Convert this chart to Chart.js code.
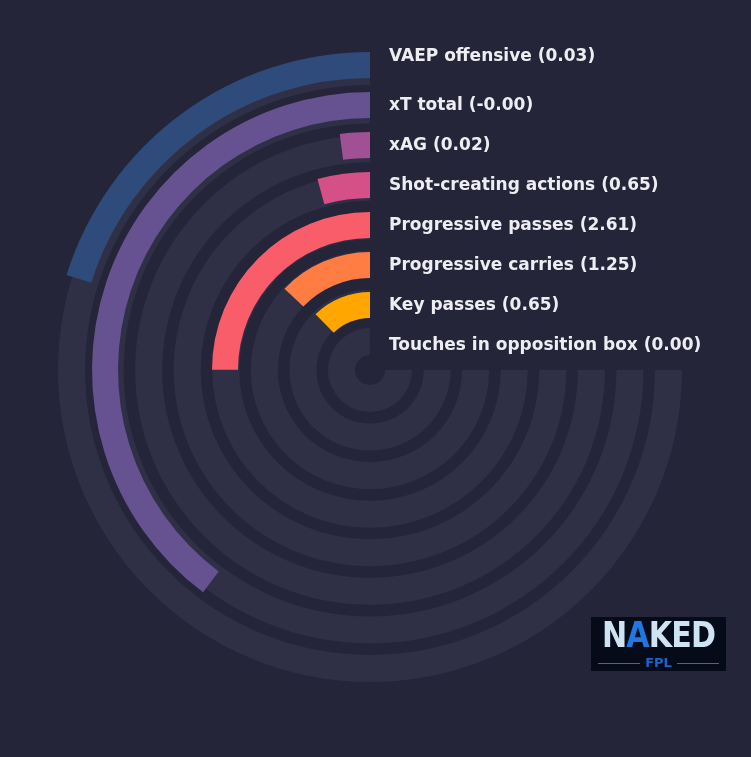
<!DOCTYPE html>
<html lang="en">
<head>
    <meta charset="UTF-8">
    <title>Radial bars - player profile</title>
    <script src="https://cdn.jsdelivr.net/npm/chart.js"></script>
    <style>
        body { margin: 0; background: #242539; }
        .wrap { position: relative; width: 751px; height: 757px; overflow: hidden; }
        canvas { position: absolute; left: 0; top: 0; }
        .logo {
            position: absolute; left: 591px; top: 617px; width: 135px; height: 54px;
            background: #060b1a; font-family: "DejaVu Sans", sans-serif; font-weight: bold;
            text-align: center;
        }
        .logo .big { position: absolute; left: 0; right: 0; top: 0px; font-size: 35px; line-height: 36px;
            color: #cfe4f2; letter-spacing: -1px; transform: scaleX(0.86); }
        .logo .big span { color: #1f78e0; }
        .logo .small { position: absolute; left: 0; right: 0; top: 38px; font-size: 13px; line-height: 15px;
            color: #1f63c8; }
        .logo .line { position: absolute; top: 46px; height: 1px; background: #1f6fd0; width: 42px; }
    </style>
</head>
<body>
<div class="wrap">
    <canvas id="tracks" width="751" height="757"></canvas>
    <canvas id="bars" width="751" height="757"></canvas>
    <div class="logo">
        <div class="big">N<span>A</span>KED</div>
        <div class="line" style="left:7px"></div>
        <div class="small">FPL</div>
        <div class="line" style="left:86px"></div>
    </div>
</div>

<script>
    // metrics, outer ring first
    const metrics = ["VAEP offensive", "xT total", "xAG", "Shot-creating actions",
        "Progressive passes", "Progressive carries", "Key passes", "Touches in opposition box"];
    // value shown in the label
    const shownValues = ["0.03", "-0.00", "0.02", "0.65", "2.61", "1.25", "0.65", "0.00"];
    // percentile (length of the bar, 100 = full 270 degree track)
    const percentiles = [26.9, 53.0, 2.7, 5.7, 33.3, 17.2, 16.4, 0.3];

    const colours = ["#2f4b7c", "#665191", "#a05195", "#d45087", "#f95d6a", "#ff7c43", "#ffa600", "#003f5c"];
    const trackColour = "#2f3046";

    const common = {
        type: "doughnut",
        options: {
            responsive: false,
            animation: false,
            events: [],
            rotation: 90,
            circumference: 270,
            plugins: { legend: { display: false }, tooltip: { enabled: false } },
            elements: { arc: { borderWidth: 0, offset: 0, hoverOffset: 0 } }
        }
    };

    // grey tracks behind the bars
    let trackSets = [];
    metrics.forEach((m, i) => {
        trackSets.push({ data: [1], backgroundColor: trackColour, weight: 27 });
        if (i < metrics.length - 1) trackSets.push({ data: [1], backgroundColor: "rgba(0,0,0,0)", weight: 11.5 });
    });

    new Chart(document.getElementById("tracks"), {
        type: "doughnut",
        data: { labels: ["track"], datasets: trackSets },
        options: Object.assign({}, common.options, {
            cutout: 15,
            layout: { padding: { left: 58, top: 58, right: 69, bottom: 75 } }
        })
    });

    // coloured bars, growing anticlockwise from 12 o'clock
    let barSets = [];
    metrics.forEach((m, i) => {
        barSets.push({
            data: [100 - percentiles[i], percentiles[i]],
            backgroundColor: ["rgba(0,0,0,0)", colours[i]],
            weight: 26
        });
        if (i < metrics.length - 1) barSets.push({ data: [100], backgroundColor: "rgba(0,0,0,0)", weight: 14 });
    });

    const ringLabels = {
        id: "ringLabels",
        afterDatasetsDraw(chart) {
            const ctx = chart.ctx;
            ctx.save();
            ctx.font = "bold 17px 'DejaVu Sans'";
            ctx.fillStyle = "#eeeef2";
            ctx.textBaseline = "middle";
            metrics.forEach((m, i) => {
                const arc = chart.getDatasetMeta(i * 2).data[1];
                let y = arc.y - (arc.innerRadius + arc.outerRadius) / 2 + 1;
                if (i === 0) y -= 9; // top label sits a bit higher
                ctx.fillText(m + " (" + shownValues[i] + ")", arc.x + 19, y);
            });
            ctx.restore();
        }
    };

    new Chart(document.getElementById("bars"), {
        type: "doughnut",
        data: { labels: ["rest", "value"], datasets: barSets },
        options: Object.assign({}, common.options, {
            cutout: 12,
            layout: { padding: { left: 52, top: 52, right: 63, bottom: 69 } }
        }),
        plugins: [ringLabels]
    });
</script>
</body>
</html>
